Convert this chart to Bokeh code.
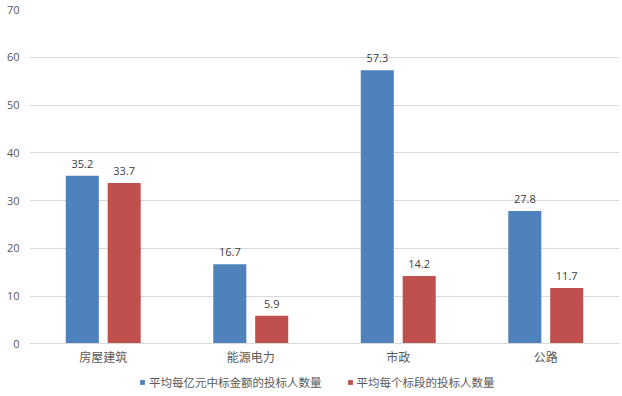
from bokeh.plotting import figure
from bokeh.models import (ColumnDataSource, Legend, LegendItem, FactorRange,
                          CategoricalAxis)
from bokeh.transform import dodge
from bokeh.core.properties import value
from bokeh.embed import file_html
from bokeh.resources import INLINE

categories = ["房屋建筑", "能源电力", "市政", "公路"]
series_a_name = "平均每亿元中标金额的投标人数量"
series_b_name = "平均每个标段的投标人数量"
series_a = [35.2, 16.7, 57.3, 27.8]
series_b = [33.7, 5.9, 14.2, 11.7]
y_ticks = [0, 10, 20, 30, 40, 50, 60, 70]

src = ColumnDataSource(dict(
    cat=categories, a=series_a, b=series_b,
    a_lbl=[f"{v:.1f}" for v in series_a],
    b_lbl=[f"{v:.1f}" for v in series_b],
))

p = figure(x_range=FactorRange(*categories), y_range=(-11.0, 70),
           frame_width=590, frame_height=387, output_backend="svg", toolbar_location=None,
           x_axis_location=None,
           min_border_left=29, min_border_right=3, min_border_top=9, min_border_bottom=0)
p.outline_line_color = None
p.background_fill_color = "white"

blue = "#4F81BD"
red = "#C0504D"
bw = 0.224
off = 0.142

ra = p.vbar(x=dodge("cat", -off, range=p.x_range), top="a", width=bw, source=src,
            fill_color=blue, line_color=None)
rb = p.vbar(x=dodge("cat", off, range=p.x_range), top="b", width=bw, source=src,
            fill_color=red, line_color=None)

for col, o in (("a", -off), ("b", off)):
    p.text(x=dodge("cat", o, range=p.x_range), y=col, text=col + "_lbl", source=src,
           text_align="center", text_baseline="bottom", y_offset=-8,
           text_font=value("Open Sans"), text_font_size="11px", text_color="#404040")

p.xgrid.grid_line_color = None
p.ygrid.grid_line_color = "#D9D9D9"
p.ygrid.ticker = y_ticks
p.yaxis.ticker = y_ticks
p.yaxis.axis_line_color = None
p.yaxis.major_tick_line_color = None
p.yaxis.minor_tick_line_color = None
p.yaxis.major_tick_out = 0
p.yaxis.major_tick_in = 0
p.yaxis.minor_tick_out = 0
p.yaxis.major_label_standoff = 10
p.yaxis.major_label_text_font = "Open Sans"
p.yaxis.major_label_text_font_size = "11px"
p.yaxis.major_label_text_color = "#595959"

xaxis = CategoricalAxis(fixed_location=0,
                        axis_line_color="#D9D9D9",
                        major_tick_line_color=None, minor_tick_line_color=None,
                        major_tick_out=0, major_tick_in=0,
                        major_label_standoff=4,
                        major_label_text_font="Noto Sans CJK SC",
                        major_label_text_font_size="12px",
                        major_label_text_color="#595959")
p.add_layout(xaxis, "below")

legend = Legend(items=[LegendItem(label=series_a_name, renderers=[ra]),
                       LegendItem(label=series_b_name, renderers=[rb])],
                orientation="horizontal", location=(110, 6),
                glyph_width=6, glyph_height=6, label_standoff=4, spacing=25,
                label_height=14, padding=0, margin=0, border_line_color=None,
                background_fill_alpha=0,
                label_text_font="Noto Sans CJK SC", label_text_font_size="11.5px",
                label_text_color="#595959")
p.add_layout(legend, "center")

open("out.html", "w").write(file_html(p, INLINE))
